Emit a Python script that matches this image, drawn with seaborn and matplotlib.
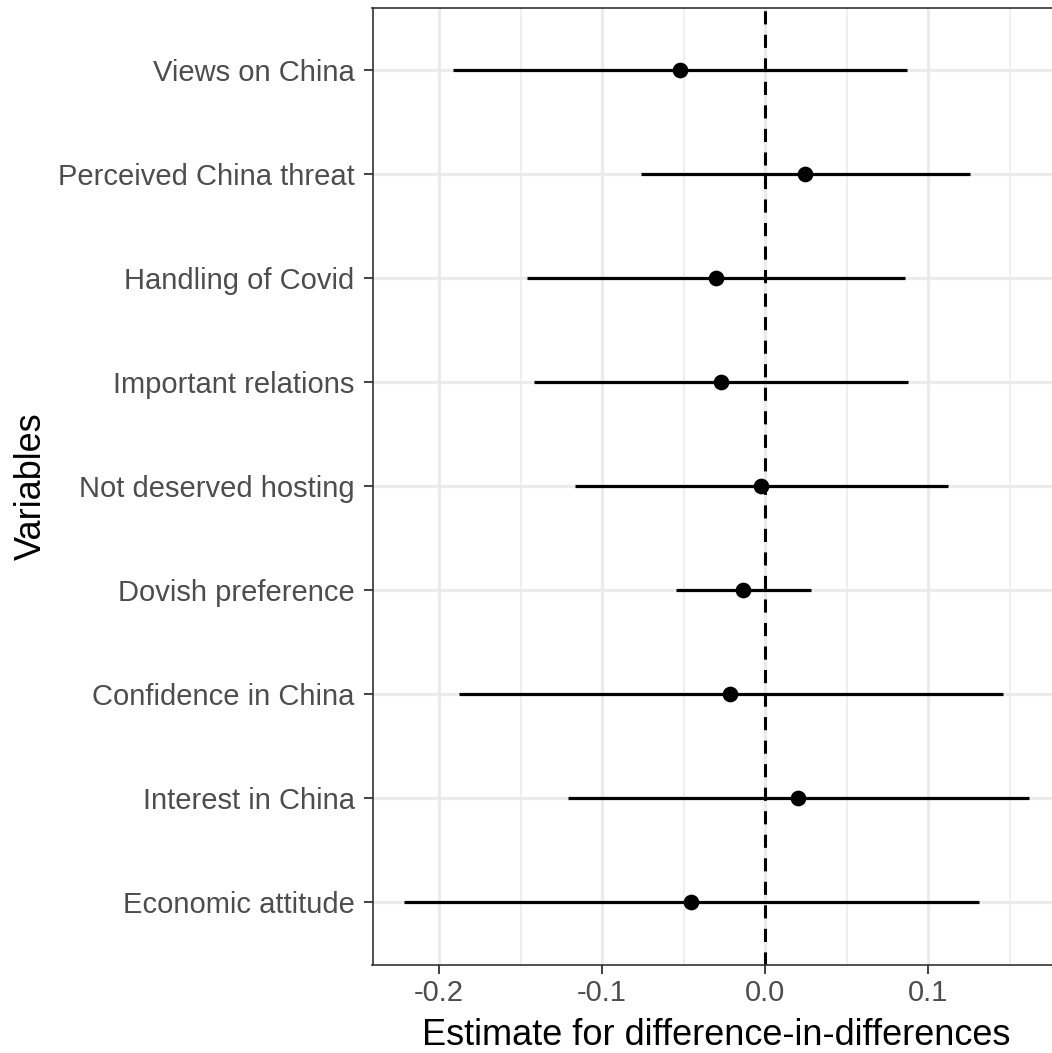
import numpy as np
import pandas as pd
import matplotlib
matplotlib.use("Agg")
import matplotlib.pyplot as plt
from matplotlib.ticker import FixedLocator
import seaborn as sns

# Difference-in-differences estimates with 95% confidence bounds
variables = ["Economic attitude", "Interest in China", "Confidence in China",
             "Dovish preference", "Not deserved hosting", "Important relations",
             "Handling of Covid", "Perceived China threat", "Views on China"]
estimate = [-0.0452, 0.0203, -0.0214, -0.0134, -0.0024, -0.0270, -0.0303, 0.0246, -0.0522]
ci_low = [-0.2217, -0.1210, -0.1877, -0.0546, -0.1167, -0.1419, -0.1462, -0.0760, -0.1917]
ci_high = [0.1312, 0.1620, 0.1459, 0.0284, 0.1122, 0.0878, 0.0857, 0.1256, 0.0870]

x_ticks = [-0.2, -0.1, 0.0, 0.1]
x_tick_labels = ["-0.2", "-0.1", "0.0", "0.1"]
x_minor = [-0.15, -0.05, 0.05, 0.15]

df = pd.DataFrame({"variable": variables, "estimate": estimate,
                   "low": ci_low, "high": ci_high})

sns.set_theme(style="white")
plt.rcParams["font.family"] = ["Liberation Sans", "DejaVu Sans"]
plt.rcParams["axes.unicode_minus"] = False

W, H = 1052, 1053
fig = plt.figure(figsize=(W / 100, H / 100), dpi=100)

span = max(ci_high) - min(ci_low)
xmin = min(ci_low) - 0.05 * span
xmax = max(ci_high) + 0.05 * span

# panel geometry (pixels); the panel runs a little past the right edge
left_px, top_px, bottom_px = 372.5, 8, 964.5
px_per_unit = 1630.0
right_px = left_px + (xmax - xmin) * px_per_unit
ax = fig.add_axes([left_px / W, 1 - bottom_px / H,
                   (right_px - left_px) / W, (bottom_px - top_px) / H])

# grid
grid_col = "#EBEBEB"
for xv in x_minor:
    ax.axvline(xv, color=grid_col, lw=1.1, zorder=0)
for xv in x_ticks:
    ax.axvline(xv, color=grid_col, lw=2.2, zorder=0)
for yv in range(len(variables)):
    ax.axhline(yv, color=grid_col, lw=2.2, zorder=0)

# reference line at zero
ax.axvline(0, color="black", lw=2.2, ls=(0, (4.3, 3.4)), zorder=1)

# confidence intervals
ax.hlines(y=df["variable"], xmin=df["low"], xmax=df["high"],
          color="black", lw=2.3, zorder=2)

# point estimates
sns.scatterplot(data=df, x="estimate", y="variable", ax=ax, color="black",
                s=128, edgecolor="black", linewidth=0, zorder=3)

ax.set_xlim(xmin, xmax)
ax.set_ylim(-0.6, len(variables) - 0.4)
ax.xaxis.set_major_locator(FixedLocator(x_ticks))
ax.set_xticklabels(x_tick_labels)

for s in ax.spines.values():
    s.set_color("#333333")
    s.set_linewidth(1.2)

ax.tick_params(axis="both", which="major", length=6.3, width=1.3,
               color="#333333", labelsize=21, labelcolor="#4D4D4D",
               left=True, bottom=True)
ax.tick_params(axis="y", pad=6.5)
ax.tick_params(axis="x", pad=4.0)

ax.set_xlabel("Estimate for difference-in-differences", fontsize=26,
              color="black", labelpad=8)
ax.set_ylabel("Variables", fontsize=26, color="black", labelpad=6.5)

fig.savefig("out.png", dpi=100)
